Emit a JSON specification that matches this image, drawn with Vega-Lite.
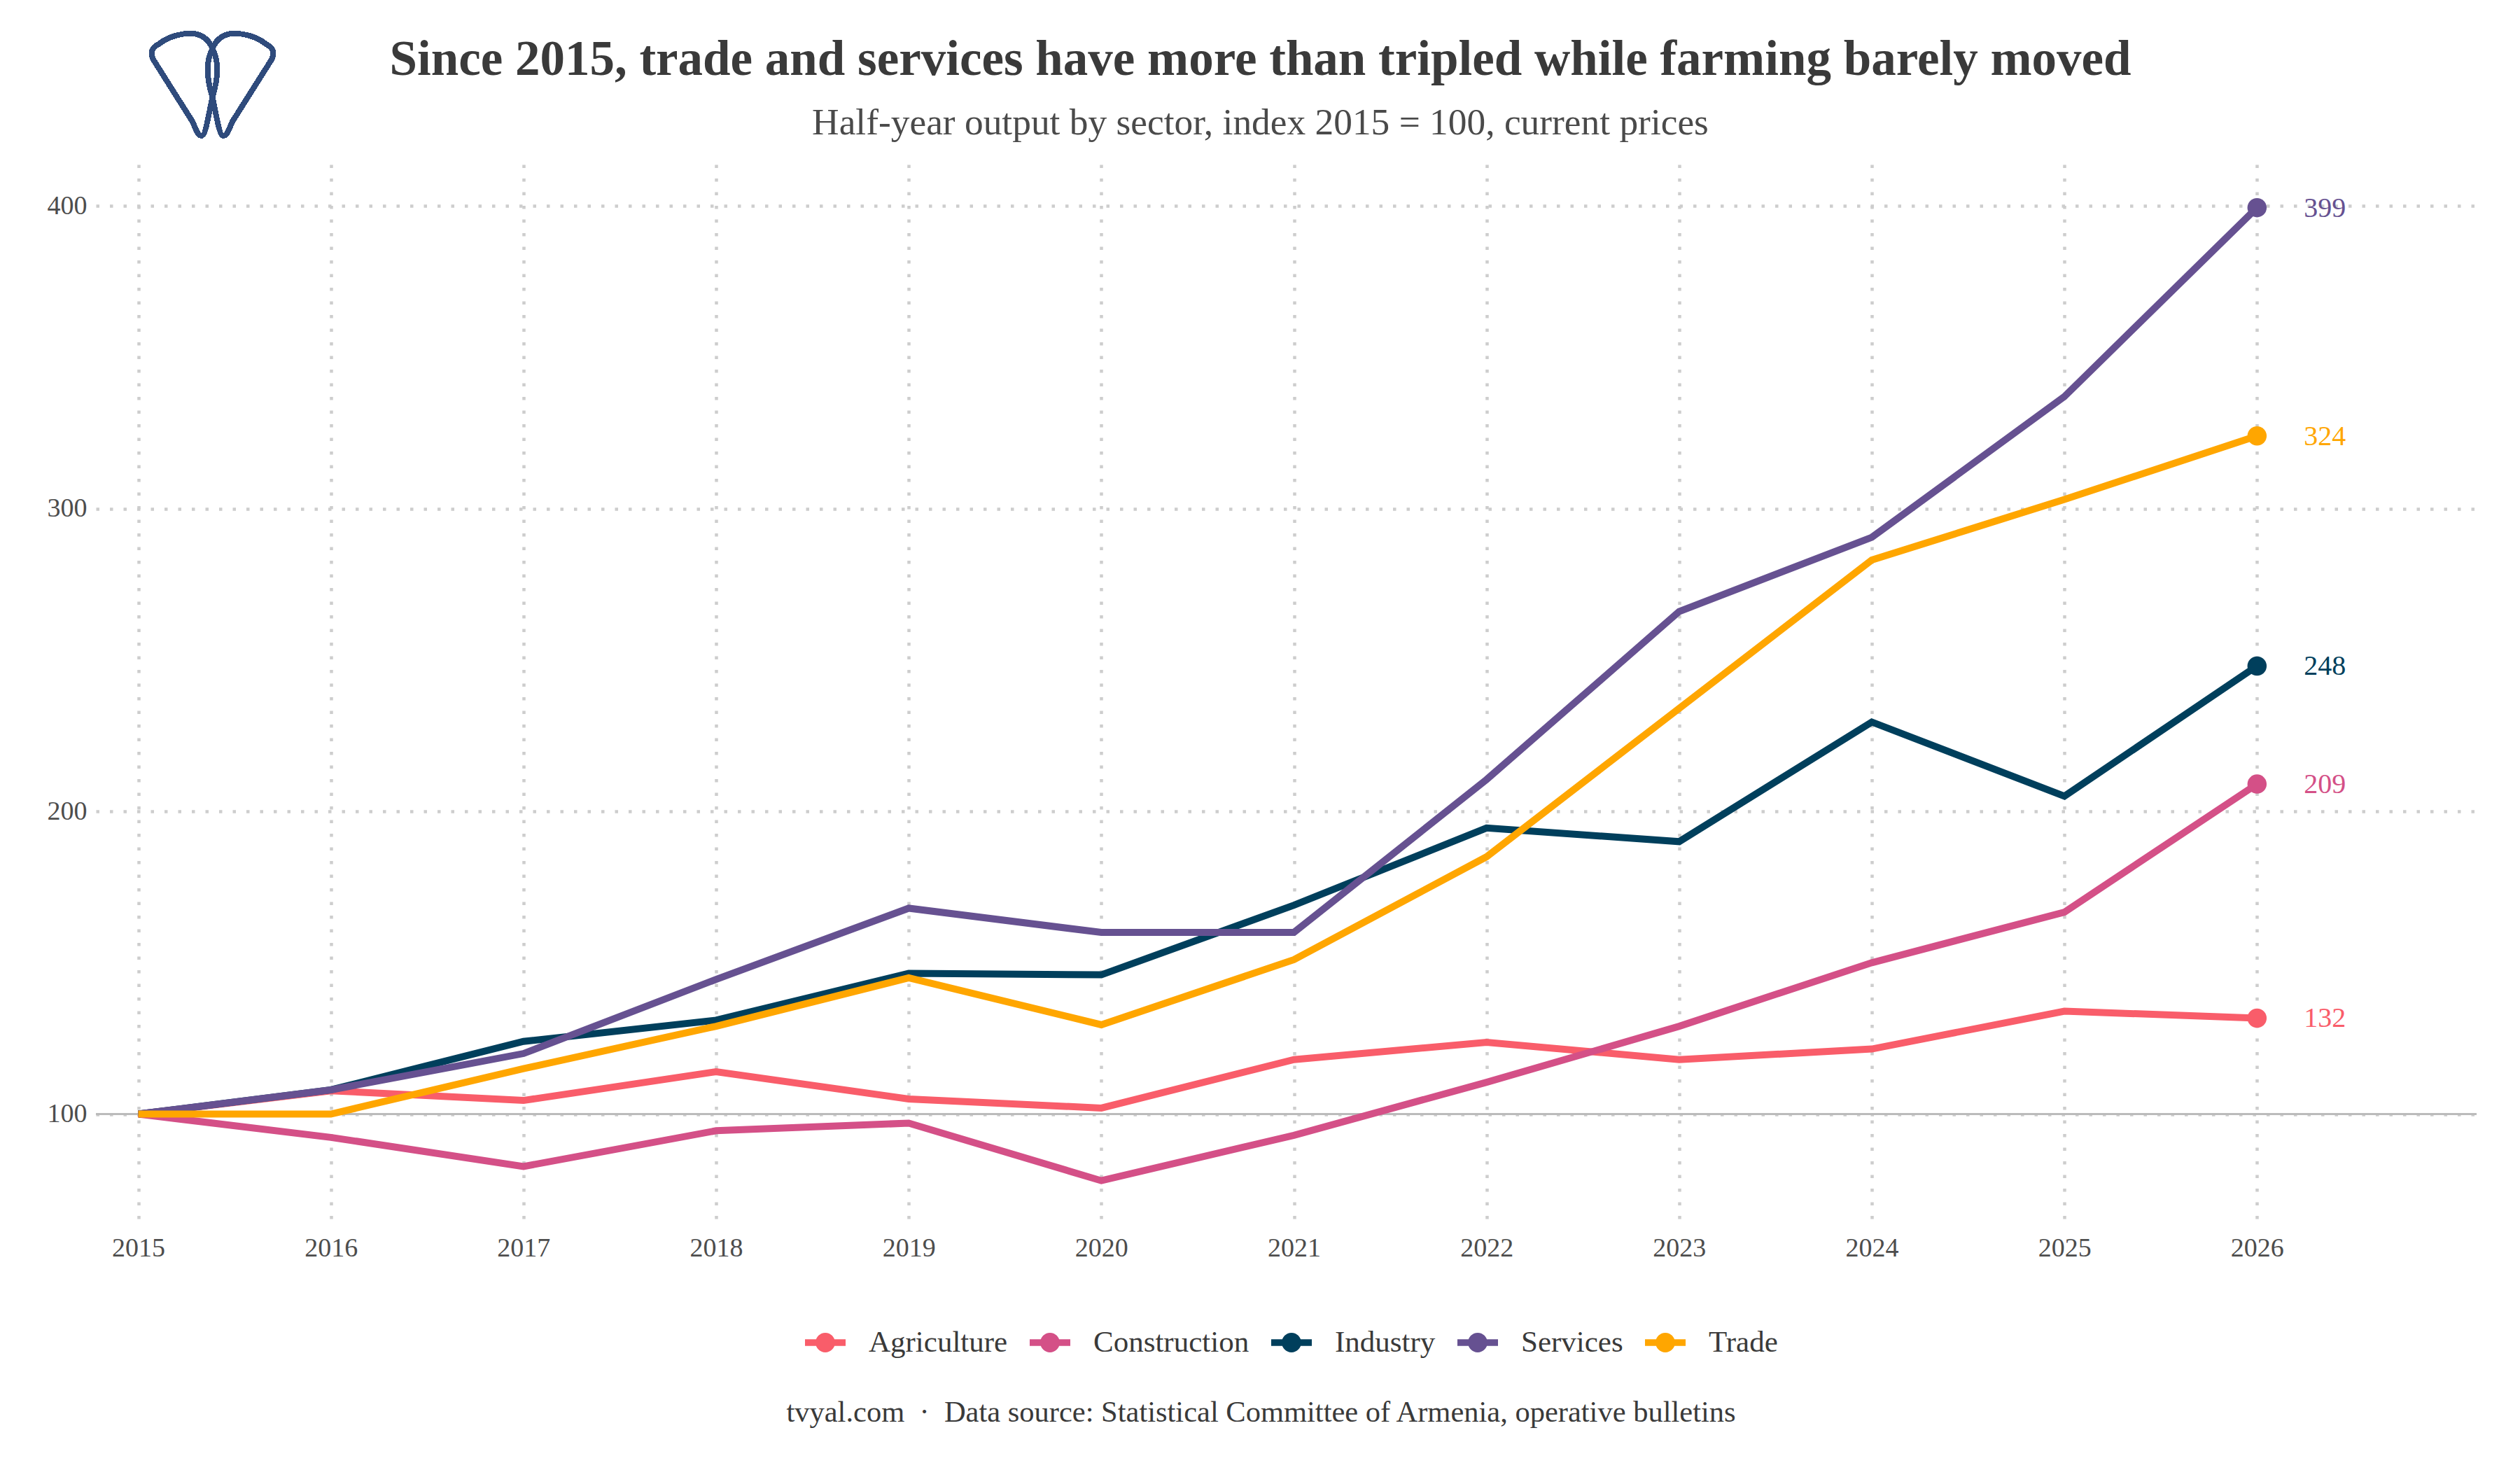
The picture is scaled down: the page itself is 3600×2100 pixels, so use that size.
{
  "$schema": "https://vega.github.io/schema/vega-lite/v6.json",
  "autosize": {"type": "none"},
  "padding": {"left": 137, "top": 235, "right": 62, "bottom": 348},
  "width": 3401,
  "height": 1517,
  "background": "white",
  "title": {
    "text": "Since 2015, trade and services have more than tripled while farming barely moved",
    "subtitle": "Half-year output by sector, index 2015 = 100, current prices",
    "anchor": "middle",
    "frame": "group",
    "dx": -37,
    "offset": -170,
    "font": "Liberation Serif",
    "fontWeight": "bold",
    "fontSize": 71,
    "color": "#3a3a3a",
    "subtitleFont": "Liberation Serif",
    "subtitleFontSize": 53.4,
    "subtitleColor": "#4a4a4a",
    "subtitlePadding": 28
  },
  "config": {"view": {"stroke": null}},
  "data": {
    "values": [
      {"year": 2015, "sector": "Agriculture", "value": 100},
      {"year": 2016, "sector": "Agriculture", "value": 107.7},
      {"year": 2017, "sector": "Agriculture", "value": 104.5},
      {"year": 2018, "sector": "Agriculture", "value": 114},
      {"year": 2019, "sector": "Agriculture", "value": 105},
      {"year": 2020, "sector": "Agriculture", "value": 102},
      {"year": 2021, "sector": "Agriculture", "value": 118},
      {"year": 2022, "sector": "Agriculture", "value": 123.7},
      {"year": 2023, "sector": "Agriculture", "value": 118},
      {"year": 2024, "sector": "Agriculture", "value": 121.5},
      {"year": 2025, "sector": "Agriculture", "value": 134},
      {"year": 2026, "sector": "Agriculture", "value": 131.7},
      {"year": 2015, "sector": "Construction", "value": 100},
      {"year": 2016, "sector": "Construction", "value": 92.3},
      {"year": 2017, "sector": "Construction", "value": 82.7},
      {"year": 2018, "sector": "Construction", "value": 94.5},
      {"year": 2019, "sector": "Construction", "value": 97},
      {"year": 2020, "sector": "Construction", "value": 78},
      {"year": 2021, "sector": "Construction", "value": 93},
      {"year": 2022, "sector": "Construction", "value": 110.5},
      {"year": 2023, "sector": "Construction", "value": 129},
      {"year": 2024, "sector": "Construction", "value": 150},
      {"year": 2025, "sector": "Construction", "value": 166.7},
      {"year": 2026, "sector": "Construction", "value": 209},
      {"year": 2015, "sector": "Industry", "value": 100},
      {"year": 2016, "sector": "Industry", "value": 108},
      {"year": 2017, "sector": "Industry", "value": 124},
      {"year": 2018, "sector": "Industry", "value": 131},
      {"year": 2019, "sector": "Industry", "value": 146.5},
      {"year": 2020, "sector": "Industry", "value": 146},
      {"year": 2021, "sector": "Industry", "value": 169},
      {"year": 2022, "sector": "Industry", "value": 194.5},
      {"year": 2023, "sector": "Industry", "value": 190},
      {"year": 2024, "sector": "Industry", "value": 229.5},
      {"year": 2025, "sector": "Industry", "value": 205},
      {"year": 2026, "sector": "Industry", "value": 248},
      {"year": 2015, "sector": "Services", "value": 100},
      {"year": 2016, "sector": "Services", "value": 108},
      {"year": 2017, "sector": "Services", "value": 120},
      {"year": 2018, "sector": "Services", "value": 144.5},
      {"year": 2019, "sector": "Services", "value": 168},
      {"year": 2020, "sector": "Services", "value": 160},
      {"year": 2021, "sector": "Services", "value": 160},
      {"year": 2022, "sector": "Services", "value": 210.5},
      {"year": 2023, "sector": "Services", "value": 266},
      {"year": 2024, "sector": "Services", "value": 290.5},
      {"year": 2025, "sector": "Services", "value": 337},
      {"year": 2026, "sector": "Services", "value": 399.4},
      {"year": 2015, "sector": "Trade", "value": 100},
      {"year": 2016, "sector": "Trade", "value": 100},
      {"year": 2017, "sector": "Trade", "value": 115},
      {"year": 2018, "sector": "Trade", "value": 129},
      {"year": 2019, "sector": "Trade", "value": 145},
      {"year": 2020, "sector": "Trade", "value": 129.5},
      {"year": 2021, "sector": "Trade", "value": 151},
      {"year": 2022, "sector": "Trade", "value": 185},
      {"year": 2023, "sector": "Trade", "value": 234},
      {"year": 2024, "sector": "Trade", "value": 283},
      {"year": 2025, "sector": "Trade", "value": 303},
      {"year": 2026, "sector": "Trade", "value": 324}
    ]
  },
  "encoding": {
    "x": {
      "field": "year",
      "type": "quantitative",
      "scale": {"domain": [2014.78, 2027.14], "nice": false, "zero": false},
      "axis": {
        "values": [2015, 2016, 2017, 2018, 2019, 2020, 2021, 2022, 2023, 2024, 2025, 2026],
        "format": "d",
        "domain": false,
        "ticks": false,
        "labelFont": "Liberation Serif",
        "labelFontSize": 38,
        "labelColor": "#4d4d4d",
        "labelPadding": 12,
        "grid": true,
        "gridColor": "#cdcdcd",
        "gridWidth": 4.5,
        "gridDash": [4.5, 15],
        "title": "tvyal.com \u00a0·\u00a0 Data source: Statistical Committee of Armenia, operative bulletins",
        "titleFont": "Liberation Serif",
        "titleFontSize": 42.5,
        "titleFontWeight": "normal",
        "titleColor": "#3a3a3a",
        "titleX": 1664,
        "titleY": 265,
        "titleAlign": "center",
        "titleBaseline": "middle"
      }
    },
    "y": {
      "field": "value",
      "type": "quantitative",
      "scale": {"domain": [62.9, 413.65], "nice": false, "zero": false},
      "axis": {
        "values": [100, 200, 300, 400],
        "domain": false,
        "ticks": false,
        "title": null,
        "labelFont": "Liberation Serif",
        "labelFontSize": 38,
        "labelColor": "#4d4d4d",
        "labelPadding": 13,
        "grid": true,
        "gridColor": "#cdcdcd",
        "gridWidth": 4.5,
        "gridDash": [4.5, 15]
      }
    }
  },
  "layer": [
    {
      "mark": {"type": "rule", "color": "#bbbbbb", "size": 3},
      "encoding": {"x": {"value": 0}, "x2": {"value": 3401}, "y": {"datum": 100}}
    },
    {
      "mark": {"type": "line", "strokeWidth": 10, "clip": false},
      "encoding": {
        "color": {
          "field": "sector",
          "type": "nominal",
          "scale": {
            "domain": ["Agriculture", "Construction", "Industry", "Services", "Trade"],
            "range": ["#f95d6a", "#d45087", "#003f5c", "#665191", "#ffa600"]
          }
        }
      }
    },
    {
      "transform": [{"filter": "datum.year == 2026"}],
      "mark": {"type": "point", "filled": true, "size": 756, "opacity": 1},
      "encoding": {
        "color": {
          "field": "sector",
          "type": "nominal",
          "legend": {
            "orient": "none",
            "legendX": 1013,
            "legendY": 1654,
            "direction": "horizontal",
            "title": null,
            "padding": 0,
            "symbolType": "M-1,-0.164H1V0.164H-1ZM-0.48,0A0.48,0.48,0,1,1,0.48,0A0.48,0.48,0,1,1,-0.48,0Z",
            "symbolSize": 3364,
            "symbolStrokeWidth": 0,
            "symbolOpacity": 1,
            "labelFont": "Liberation Serif",
            "labelFontSize": 43,
            "labelColor": "#3a3a3a",
            "labelOffset": 33,
            "columnPadding": 31,
            "labelLimit": 400,
            "encode": {"symbols": {"update": {"fill": {"scale": "color", "field": "value"}}}}
          }
        }
      }
    },
    {
      "transform": [{"filter": "datum.year == 2026"}],
      "mark": {
        "type": "text",
        "align": "left",
        "baseline": "middle",
        "dx": 67,
        "dy": 1,
        "font": "Liberation Serif",
        "fontSize": 40
      },
      "encoding": {
        "text": {"field": "value", "type": "quantitative", "format": ".0f"},
        "color": {"field": "sector", "type": "nominal"}
      }
    },
    {
      "mark": {
        "type": "point",
        "shape": "M-.16,.76C-.20,.76-.22,.74-.29,.56L-.84,-.31C-.94,-.45-.92,-.54-.80,-.60C-.65,-.72-.45,-.76-.33,-.76C-.15,-.76-.05,-.65,0,-.54C.09,-.35.10,-.15,0,.19C-.06,.45-.10,.76-.16,.76ZM.16,.76C.20,.76.22,.74.29,.56L.84,-.31C.94,-.45.92,-.54.80,-.60C.65,-.72.45,-.76.33,-.76C.15,-.76.05,-.65,0,-.54C-.09,-.35-.10,-.15,0,.19C.06,.45.10,.76.16,.76Z",
        "size": 37000,
        "filled": false,
        "stroke": "#2f4b7c",
        "strokeWidth": 7,
        "opacity": 1,
        "clip": false
      },
      "encoding": {"x": {"datum": 2015.385}, "y": {"datum": 440.05}}
    }
  ]
}
